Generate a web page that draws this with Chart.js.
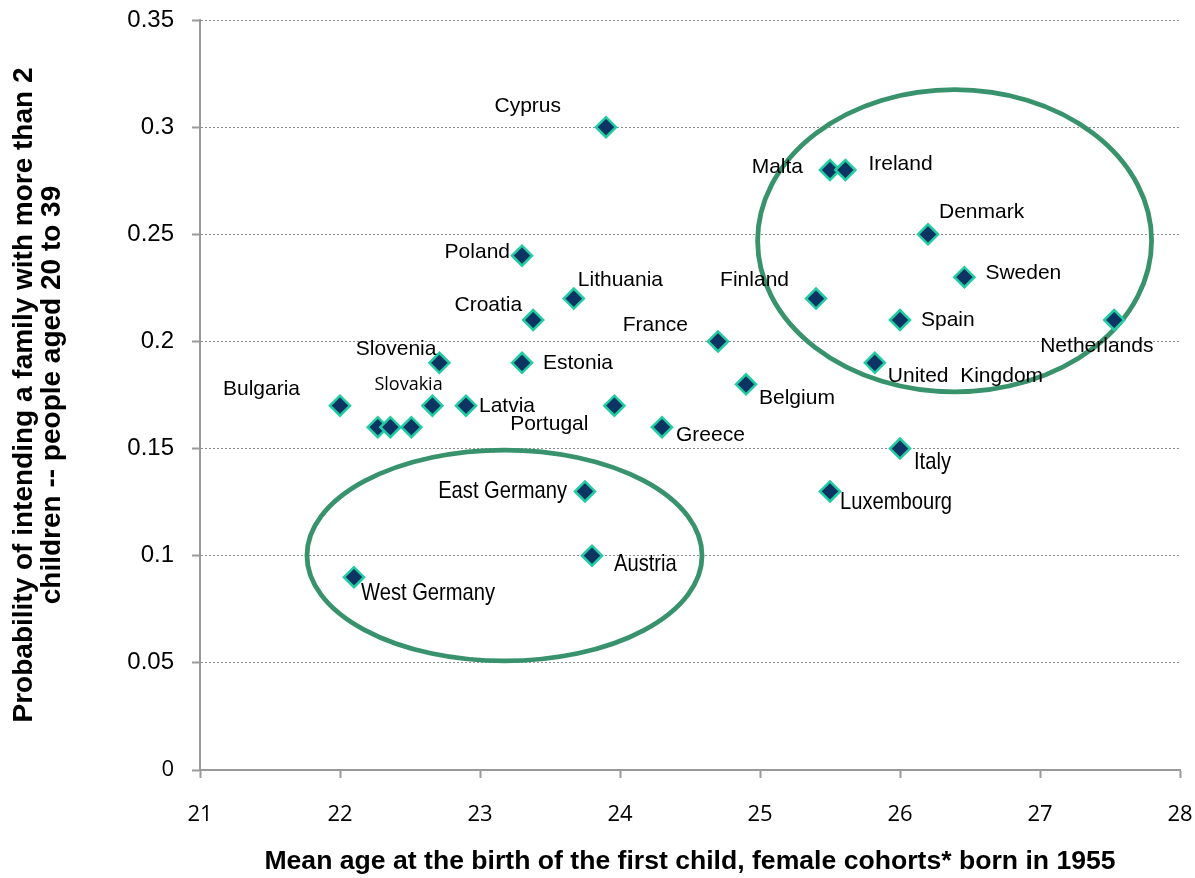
<!DOCTYPE html>
<html>
<head>
<meta charset="utf-8">
<title>Intending more than 2 children vs mean age at first birth</title>
<script src="https://cdn.jsdelivr.net/npm/chart.js@4.4.1/dist/chart.umd.min.js"></script>
<style>
  html, body { margin: 0; padding: 0; background: #fff; }
  #wrap { width: 1195px; height: 878px; }
</style>
</head>
<body>
<div id="wrap"><canvas id="chart" width="1195" height="878"></canvas></div>
<script>
// country names, '' = unlabelled point
const countries = ['Cyprus', 'Malta', 'Ireland', 'Denmark', 'Sweden', 'Finland', 'Spain', 'Netherlands',
  'France', 'United  Kingdom', 'Belgium', 'Italy', 'Luxembourg', 'Poland', 'Lithuania', 'Croatia',
  'Slovenia', 'Estonia', 'Bulgaria', 'Slovakia', 'Latvia', 'Portugal', 'Greece', 'East Germany',
  'Austria', 'West Germany', '', '', ''];
const meanAge = [23.9, 25.5, 25.61, 26.2, 26.46, 25.4, 26.0, 27.53,
  24.7, 25.82, 24.9, 26.0, 25.5, 23.3, 23.67, 23.38,
  22.71, 23.3, 22.0, 22.66, 22.9, 23.96, 24.3, 23.75,
  23.8, 22.1, 22.27, 22.36, 22.51];
const probability = [0.30, 0.28, 0.28, 0.25, 0.23, 0.22, 0.21, 0.21,
  0.20, 0.19, 0.18, 0.15, 0.13, 0.24, 0.22, 0.21,
  0.19, 0.19, 0.17, 0.17, 0.17, 0.17, 0.16, 0.13,
  0.10, 0.09, 0.16, 0.16, 0.16];

const yTickLabels = ['0', '0.05', '0.1', '0.15', '0.2', '0.25', '0.3', '0.35'];
const xTitle = 'Mean age at the birth of the first child, female cohorts* born in 1955';
const yTitle = ['Probability of intending a family with more than 2', 'children -- people aged 20 to 39'];

// circled groups: centre age, centre probability, half width (years), half height
const rings = [
  [26.39, 0.247, 1.407, 0.0705],
  [23.175, 0.1001, 1.411, 0.0492]
];

// where each name sits next to its marker: dx, dy, align
const labelPos = {
  'Cyprus': [-45, -21, 'right'],
  'Malta': [-27, -3, 'right'],
  'Ireland': [23, -6, 'left'],
  'Denmark': [11, -22, 'left'],
  'Sweden': [21, -4, 'left'],
  'Finland': [-27, -18, 'right'],
  'Spain': [21, 0, 'left'],
  'Netherlands': [-74, 26, 'left'],
  'France': [-30, -16, 'right'],
  'United  Kingdom': [13, 13, 'left'],
  'Belgium': [13, 14, 'left'],
  'Italy': [14, 14, 'left'],
  'Luxembourg': [10, 11, 'left'],
  'Poland': [-12, -4, 'right'],
  'Lithuania': [4, -18, 'left'],
  'Croatia': [-11, -15, 'right'],
  'Slovenia': [-3, -14, 'right'],
  'Estonia': [21, 0, 'left'],
  'Bulgaria': [-40, -17, 'right'],
  'Slovakia': [-58, -21, 'left'],
  'Latvia': [13, 0, 'left'],
  'Portugal': [-26, 18, 'right'],
  'Greece': [14, 8, 'left'],
  'East Germany': [-18, 0, 'right'],
  'Austria': [22, 9, 'left'],
  'West Germany': [7, 16, 'left']
};
// these names are set in a condensed face in the original
const narrowNames = ['Italy', 'Luxembourg', 'East Germany', 'Austria', 'West Germany'];

const pointLabels = {
  id: 'pointLabels',
  afterDatasetsDraw(chart) {
    const ctx = chart.ctx;
    const meta = chart.getDatasetMeta(0);
    ctx.save();
    ctx.fillStyle = '#000';
    ctx.textBaseline = 'middle';
    meta.data.forEach((pt, i) => {
      const name = countries[i];
      if (!name) return;
      const p = labelPos[name];
      ctx.save();
      ctx.translate(pt.x + p[0], pt.y + p[1]);
      ctx.textAlign = p[2];
      if (name === 'Slovakia') {
        ctx.font = '18px "Open Sans", sans-serif';
      } else if (narrowNames.includes(name)) {
        ctx.font = '24px "Liberation Sans", Arial, sans-serif';
        ctx.scale(0.84, 1);
      } else {
        ctx.font = '21px "Liberation Sans", Arial, sans-serif';
      }
      ctx.fillText(name, 0, 0);
      ctx.restore();
    });
    ctx.restore();
  }
};

const groupRings = {
  id: 'groupRings',
  beforeDatasetsDraw(chart) {
    const {ctx, scales: {x, y}} = chart;
    ctx.save();
    ctx.strokeStyle = '#38936d';
    ctx.lineWidth = 4.8;
    rings.forEach(([cx, cy, rx, ry]) => {
      const px = x.getPixelForValue(cx);
      const py = y.getPixelForValue(cy);
      const w = x.getPixelForValue(cx + rx) - px;
      const h = py - y.getPixelForValue(cy + ry);
      ctx.beginPath();
      ctx.ellipse(px, py, w, h, 0, 0, Math.PI * 2);
      ctx.stroke();
    });
    ctx.restore();
  }
};

Chart.defaults.font.family = '"Liberation Sans", Arial, sans-serif';
Chart.defaults.color = '#000';

new Chart('chart', {
  type: 'scatter',
  data: {
    datasets: [{
      data: meanAge.map((a, i) => ({x: a, y: probability[i]})),
      pointStyle: 'rectRot',
      pointRadius: 10,
      pointHoverRadius: 10,
      borderWidth: 2.5,
      backgroundColor: '#0d3463',
      borderColor: '#20cda0',
      clip: false
    }]
  },
  options: {
    responsive: false,
    animation: false,
    layout: { padding: { left: 0, top: 20, right: 15, bottom: 0 } },
    plugins: {
      legend: { display: false },
      tooltip: { enabled: false }
    },
    scales: {
      x: {
        type: 'linear',
        min: 21,
        max: 28,
        afterFit(scale) {
          scale.height = 108;
          scale.paddingLeft = 0;
          scale.paddingRight = 0;
        },
        ticks: {
          stepSize: 1,
          padding: 24,
          font: { family: '"Open Sans", sans-serif', size: 22 }
        },
        grid: { drawOnChartArea: false, tickLength: 8, tickColor: '#999', tickWidth: 2 },
        border: { color: '#999', width: 2 },
        title: {
          display: true,
          text: xTitle,
          font: { size: 26.6, weight: 'bold' },
          padding: { top: 0, bottom: 0 }
        }
      },
      y: {
        min: 0,
        max: 0.35,
        afterFit(scale) {
          scale.width = 200;
          scale.paddingTop = 0;
          scale.paddingBottom = 0;
        },
        ticks: {
          stepSize: 0.05,
          padding: 18,
          callback: (v, i) => yTickLabels[i],
          font: (c) => c.tick && c.tick.value === 0
            ? { family: '"Open Sans", sans-serif', size: 22 }
            : { family: '"Liberation Sans", Arial, sans-serif', size: 24 }
        },
        grid: {
          color: (c) => c.tick && c.tick.value === 0 ? 'rgba(0,0,0,0)' : '#8c8c8c',
          lineWidth: 1,
          tickLength: 8,
          tickColor: '#999',
          tickWidth: 2
        },
        border: { color: '#999', width: 2, dash: [2, 2] },
        title: {
          display: true,
          text: yTitle,
          font: { size: 28, weight: 'bold', lineHeight: 1.0 },
          padding: { top: 10, bottom: 0 }
        }
      }
    }
  },
  plugins: [groupRings, pointLabels]
});
</script>
</body>
</html>
